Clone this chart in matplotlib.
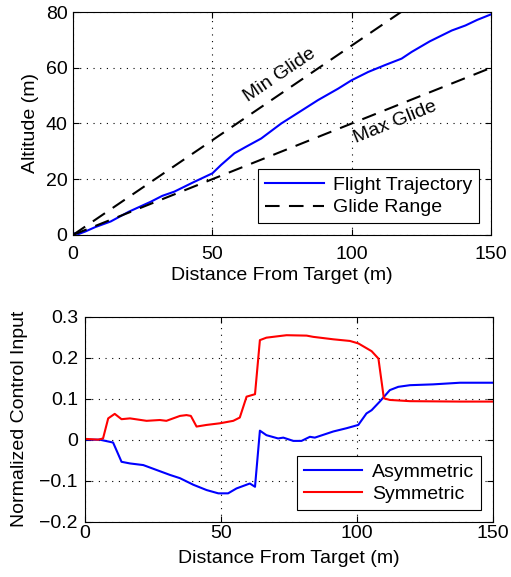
import matplotlib.pyplot as plt
import numpy as np

plt.rcParams['font.family'] = ['Liberation Sans', 'DejaVu Sans']
plt.rcParams['font.size'] = 14

# top panel: flight trajectory vs glide range
traj_x = [0, 2, 4.4, 8, 13.5, 20, 27.9, 32, 36.3, 43, 50, 53.1, 57.9, 62, 67.5, 74.7,
          81, 87.9, 95.1, 99.9, 105.9, 112, 117.9, 121.5, 128, 135.9, 140.8, 145, 150]
traj_y = [0.6, 0.3, 1.2, 2.8, 4.8, 8.3, 11.9, 14.0, 15.5, 18.8, 22.1, 25.1, 29.3, 31.6,
          34.6, 40.0, 44.0, 48.4, 52.5, 55.5, 58.5, 61.0, 63.3, 65.7, 69.5, 73.4, 75.2,
          77.2, 79.2]
min_glide_slope = 0.68
max_glide_slope = 0.40

# bottom panel: control inputs
asym_x = [0, 5.5, 10.4, 13.5, 16.6, 21.5, 26.4, 31.3, 35, 39.9, 44.8, 49.1, 52.7, 55.8,
          60.7, 62.6, 64.4, 66.8, 71.1, 73, 76.7, 79.7, 82.8, 84.6, 91.4, 96.3, 100.6,
          103.6, 105.5, 108.5, 112.2, 115.3, 119.6, 128.1, 138, 150]
asym_y = [0, 0, -0.007, -0.054, -0.058, -0.062, -0.074, -0.086, -0.094, -0.11, -0.123,
          -0.131, -0.131, -0.119, -0.107, -0.115, 0.022, 0.011, 0.003, 0.005, -0.003,
          -0.003, 0.007, 0.005, 0.02, 0.028, 0.036, 0.064, 0.072, 0.093, 0.121, 0.129,
          0.133, 0.135, 0.139, 0.139]
sym_x = [0, 4.9, 6.7, 8.6, 11, 13.5, 16.6, 22.7, 27.6, 30, 35, 37.4, 39, 41.1, 44.8, 49.7,
         54.6, 57, 59.5, 62.6, 64.4, 66.8, 71.7, 74.2, 81.6, 84, 91.4, 97.5, 100.6, 105.5,
         108, 110, 112.2, 119.6, 138, 150]
sym_y = [0.002, 0, 0.003, 0.052, 0.063, 0.05, 0.052, 0.046, 0.048, 0.046, 0.058, 0.06,
         0.058, 0.032, 0.036, 0.04, 0.046, 0.054, 0.105, 0.111, 0.243, 0.249, 0.253, 0.255,
         0.254, 0.251, 0.245, 0.241, 0.235, 0.216, 0.198, 0.101, 0.097, 0.094, 0.093, 0.093]

fig = plt.figure(figsize=(5.11, 5.77), dpi=100)
ax1 = fig.add_axes([0.143, 0.593, 0.818, 0.386])
ax2 = fig.add_axes([0.166, 0.096, 0.798, 0.355])

gx = np.array([0, 150])
ax1.plot(traj_x, traj_y, color='blue', lw=1.5, label='Flight Trajectory')
ax1.plot(gx, min_glide_slope * gx, 'k--', lw=1.5, dashes=(7, 4.5), label='Glide Range')
ax1.plot(gx, max_glide_slope * gx, 'k--', lw=1.5, dashes=(7, 4.5))
ax1.text(74.3, 57.5, 'Min Glide', rotation=34, ha='center', va='center')
ax1.text(115.5, 40.6, 'Max Glide', rotation=22, ha='center', va='center')
ax1.set_xlim(0, 150)
ax1.set_ylim(0, 80)
ax1.set_xticks([0, 50, 100, 150])
ax1.set_yticks([0, 20, 40, 60, 80])
ax1.set_xlabel('Distance From Target (m)', labelpad=3)
ax1.set_ylabel('Altitude (m)', labelpad=5)

ax2.plot(asym_x, asym_y, color='blue', lw=1.5, label='Asymmetric')
ax2.plot(sym_x, sym_y, color='red', lw=1.5, label='Symmetric')
ax2.set_xlim(0, 150)
ax2.set_ylim(-0.2, 0.3)
ax2.set_xticks([0, 50, 100, 150])
ax2.set_yticks([-0.2, -0.1, 0, 0.1, 0.2, 0.3])
ax2.set_yticklabels(['\u22120.2', '\u22120.1', '0', '0.1', '0.2', '0.3'])
ax2.set_xlabel('Distance From Target (m)', labelpad=6)
ax2.set_ylabel('Normalized Control Input', labelpad=8)

for ax in (ax1, ax2):
    ax.grid(True, color='black', linestyle=(0, (1, 5)), linewidth=0.8)
    ax.tick_params(direction='in', top=True, right=True, length=4)
    for s in ax.spines.values():
        s.set_linewidth(0.8)
    leg = ax.legend(loc='lower right', fancybox=False, framealpha=1,
                    edgecolor='black', handlelength=3.0, borderpad=0.35,
                    labelspacing=0.25, borderaxespad=0.6, handletextpad=0.5)
    leg.get_frame().set_linewidth(0.8)

ax1.tick_params(axis='x', pad=8)
ax1.tick_params(axis='y', pad=4)
ax2.tick_params(axis='x', pad=2.5)
ax2.tick_params(axis='y', pad=5)

fig.savefig('out.png', dpi=100)
